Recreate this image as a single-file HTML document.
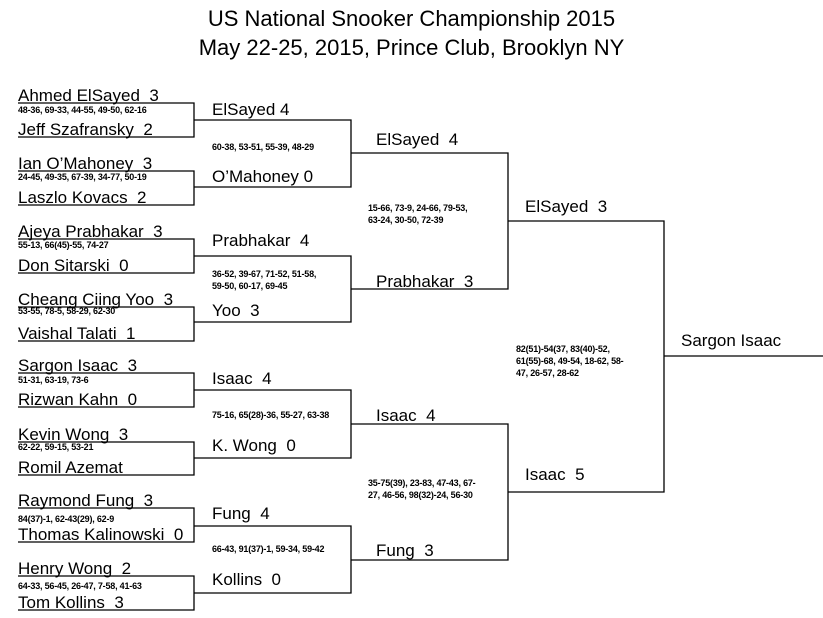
<!DOCTYPE html>
<html><head><meta charset="utf-8"><style>
body{margin:0;background:#fff;}
#c{position:relative;width:823px;height:618px;overflow:hidden;font-family:"Liberation Sans",sans-serif;color:#000;}
.t{position:absolute;left:0;width:823px;text-align:center;font-size:22px;line-height:1;white-space:nowrap;}
.n{position:absolute;font-size:17px;line-height:1;white-space:nowrap;}
.s{position:absolute;font-size:9px;font-weight:bold;line-height:1;white-space:nowrap;letter-spacing:-0.2px;}
.s2{position:absolute;font-size:9px;font-weight:bold;line-height:12px;white-space:nowrap;letter-spacing:-0.2px;}
svg{position:absolute;left:0;top:0;}
</style></head><body><div id="c">
<svg width="823" height="618" stroke="#000" stroke-width="1.3" fill="none">
<path d="M18 103H194V137H18M18 171H194V205H18M18 239H194V273H18M18 307H194V341H18M18 373H194V407H18M18 442H194V475H18M18 508H194V542H18M18 576H194V610H18"/>
<path d="M194 120H351V187H194M194 256H351V322H194M194 390H351V458H194M194 526H351V593H194"/>
<path d="M351 153H508V289H351M351 424H508V560H351"/>
<path d="M508 221H664V492H508M664 356H823"/>
</svg>
<div class="t" style="top:8px">US National Snooker Championship 2015</div>
<div class="t" style="top:37px">May 22-25, 2015, Prince Club, Brooklyn NY</div>

<div class="n" style="left:18px;top:87px">Ahmed ElSayed&nbsp; 3</div>
<div class="s" style="left:18px;top:106px">48-36, 69-33, 44-55, 49-50, 62-16</div>
<div class="n" style="left:18px;top:121px">Jeff Szafransky&nbsp; 2</div>
<div class="n" style="left:18px;top:155px">Ian O’Mahoney&nbsp; 3</div>
<div class="s" style="left:18px;top:173px">24-45, 49-35, 67-39, 34-77, 50-19</div>
<div class="n" style="left:18px;top:189px">Laszlo Kovacs&nbsp; 2</div>
<div class="n" style="left:18px;top:223px">Ajeya Prabhakar&nbsp; 3</div>
<div class="s" style="left:18px;top:241px">55-13, 66(45)-55, 74-27</div>
<div class="n" style="left:18px;top:257px">Don Sitarski&nbsp; 0</div>
<div class="n" style="left:18px;top:291px">Cheang Ciing Yoo&nbsp; 3</div>
<div class="s" style="left:18px;top:307px">53-55, 78-5, 58-29, 62-30</div>
<div class="n" style="left:18px;top:325px">Vaishal Talati&nbsp; 1</div>
<div class="n" style="left:18px;top:357px">Sargon Isaac&nbsp; 3</div>
<div class="s" style="left:18px;top:376px">51-31, 63-19, 73-6</div>
<div class="n" style="left:18px;top:391px">Rizwan Kahn&nbsp; 0</div>
<div class="n" style="left:18px;top:426px">Kevin Wong&nbsp; 3</div>
<div class="s" style="left:18px;top:443px">62-22, 59-15, 53-21</div>
<div class="n" style="left:18px;top:459px">Romil Azemat</div>
<div class="n" style="left:18px;top:492px">Raymond Fung&nbsp; 3</div>
<div class="s" style="left:18px;top:515px">84(37)-1, 62-43(29), 62-9</div>
<div class="n" style="left:18px;top:526px">Thomas Kalinowski&nbsp; 0</div>
<div class="n" style="left:18px;top:560px">Henry Wong&nbsp; 2</div>
<div class="s" style="left:18px;top:582px">64-33, 56-45, 26-47, 7-58, 41-63</div>
<div class="n" style="left:18px;top:594px">Tom Kollins&nbsp; 3</div>

<div class="n" style="left:212px;top:101px">ElSayed 4</div>
<div class="s" style="left:212px;top:143px">60-38, 53-51, 55-39, 48-29</div>
<div class="n" style="left:212px;top:168px">O’Mahoney 0</div>
<div class="n" style="left:212px;top:232px">Prabhakar&nbsp; 4</div>
<div class="s2" style="left:212px;top:268px">36-52, 39-67, 71-52, 51-58,<br>59-50, 60-17, 69-45</div>
<div class="n" style="left:212px;top:302px">Yoo&nbsp; 3</div>
<div class="n" style="left:212px;top:370px">Isaac&nbsp; 4</div>
<div class="s" style="left:212px;top:411px">75-16, 65(28)-36, 55-27, 63-38</div>
<div class="n" style="left:212px;top:437px">K. Wong&nbsp; 0</div>
<div class="n" style="left:212px;top:505px">Fung&nbsp; 4</div>
<div class="s" style="left:212px;top:545px">66-43, 91(37)-1, 59-34, 59-42</div>
<div class="n" style="left:212px;top:571px">Kollins&nbsp; 0</div>

<div class="n" style="left:376px;top:131px">ElSayed&nbsp; 4</div>
<div class="s2" style="left:368px;top:202px">15-66, 73-9, 24-66, 79-53,<br>63-24, 30-50, 72-39</div>
<div class="n" style="left:376px;top:273px">Prabhakar&nbsp; 3</div>
<div class="n" style="left:376px;top:407px">Isaac&nbsp; 4</div>
<div class="s2" style="left:368px;top:477px">35-75(39), 23-83, 47-43, 67-<br>27, 46-56, 98(32)-24, 56-30</div>
<div class="n" style="left:376px;top:542px">Fung&nbsp; 3</div>

<div class="n" style="left:525px;top:198px">ElSayed&nbsp; 3</div>
<div class="s2" style="left:516px;top:343px">82(51)-54(37, 83(40)-52,<br>61(55)-68, 49-54, 18-62, 58-<br>47, 26-57, 28-62</div>
<div class="n" style="left:525px;top:466px">Isaac&nbsp; 5</div>
<div class="n" style="left:681px;top:332px">Sargon Isaac</div>
</div></body></html>
